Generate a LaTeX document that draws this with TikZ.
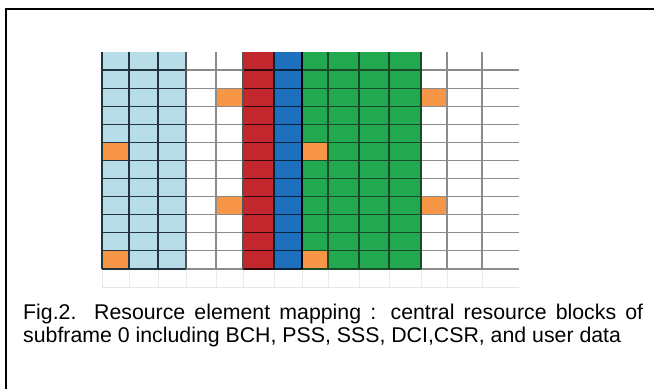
\documentclass[tikz,border=0pt]{standalone}
\usepackage{fontspec}
\setmainfont{Liberation Sans}
\definecolor{ctrlbg}{HTML}{B7DDE8}
\definecolor{bchred}{HTML}{C1272D}
\definecolor{pssblue}{HTML}{1F6FBF}
\definecolor{datagreen}{HTML}{22A84F}
\definecolor{csrorange}{HTML}{F79646}
\definecolor{gridgrey}{HTML}{8C8C8C}
\definecolor{griddark}{HTML}{24343E}
\definecolor{greendark}{HTML}{1B4A28}
\begin{document}
\begin{tikzpicture}[x=1pt,y=-1pt]
    \useasboundingbox (0,0) rectangle (654,389);
    \draw[line width=2pt] (6,389) -- (6,9) -- (654,9);

    % column fills
    \foreach \xa/\xb/\col in {102/129/ctrlbg,129/158/ctrlbg,158/186/ctrlbg,
        186/216/white,216/243/white,243/274/bchred,274/302/pssblue,
        302/328/datagreen,328/359/datagreen,359/389/datagreen,389/421/datagreen,
        421/447/white,447/482/white,482/519/white}{
        \fill[\col] (\xa,52) rectangle (\xb,269);
    }

    % reference signals
    \foreach \xa/\xb/\r in {102/129/6,102/129/12,216/243/3,216/243/9,
        302/328/6,302/328/12,421/447/3,421/447/9}{
        \fill[csrorange] (\xa,{52+18.08*(\r-1)}) rectangle (\xb,{52+18.08*\r});
    }

    % faint row under the grid
    \draw[black!10,line width=0.8pt] (102,287) -- (519,287);
    \foreach \xx in {102,129,158,186,216,243,274,302,328,359,389,421,447,482}{
        \draw[black!8,line width=0.8pt] (\xx,269) -- (\xx,287);
    }

    % horizontal grid lines
    \foreach \i in {1,...,12}{
        \pgfmathsetmacro{\yy}{52+18.08*\i}
        \draw[griddark,line width=1.2pt] (102,\yy) -- (186,\yy);
        \draw[gridgrey,line width=1.2pt] (186,\yy) -- (243,\yy);
        \draw[black!75!bchred,line width=1.2pt] (243,\yy) -- (274,\yy);
        \draw[black!70!pssblue,line width=1.2pt] (274,\yy) -- (302,\yy);
        \draw[greendark,line width=1.2pt] (302,\yy) -- (421,\yy);
        \draw[gridgrey,line width=1.2pt] (421,\yy) -- (519,\yy);
    }

    % vertical grid lines
    \foreach \xx/\col in {102/griddark,129/griddark,158/griddark,186/gridgrey!60!black,
        216/gridgrey,243/gridgrey!60!black,274/black!70!pssblue,
        328/greendark,359/greendark,389/greendark,421/greendark,
        447/gridgrey,482/gridgrey}{
        \draw[\col,line width=1.2pt] (\xx,52) -- (\xx,269);
    }
    \draw[black,line width=2.5pt] (302,52) -- (302,269);

    \node[anchor=north west,inner sep=0pt,text width=620pt,align=justify,
        font=\fontsize{21.3}{23}\selectfont] (caption) at (23,304)
        {Fig.2. Resource element mapping : central resource blocks of\linebreak
        subframe 0 including BCH, PSS, SSS, DCI,CSR, and user data};
\end{tikzpicture}
\end{document}
